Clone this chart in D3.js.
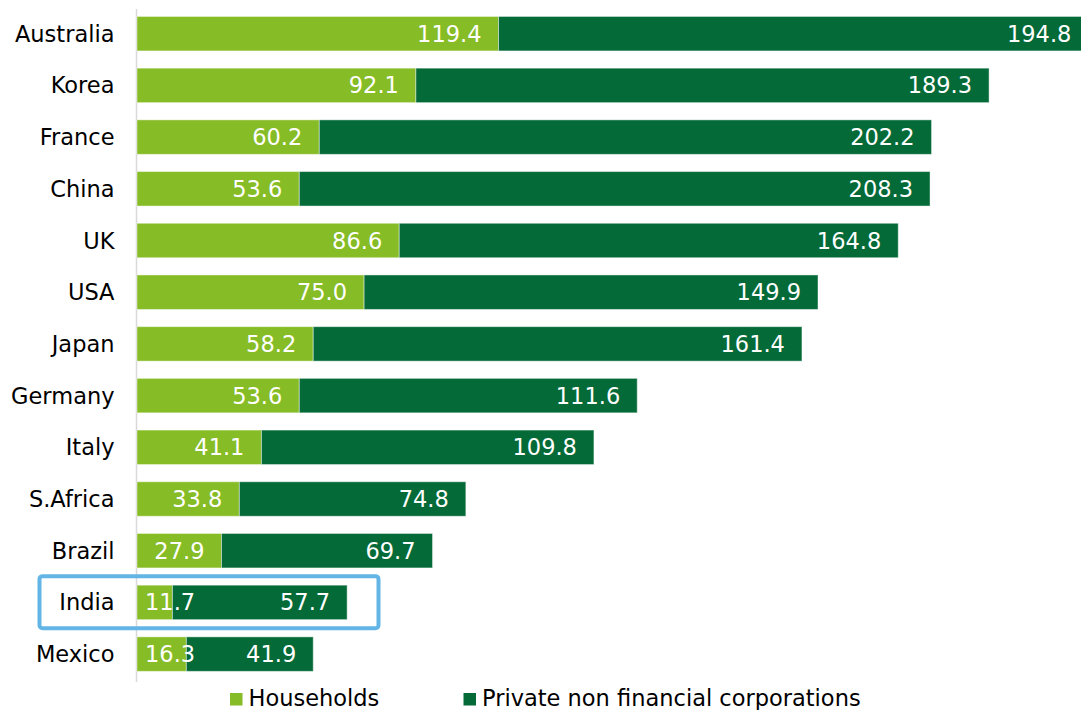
<!DOCTYPE html>
<html>
<head>
<meta charset="utf-8">
<script src="https://cdn.jsdelivr.net/npm/d3@7"></script>
<style>
  html, body { margin: 0; padding: 0; background: #fff; overflow: hidden; }
  svg { display: block; font-family: "DejaVu Sans", Verdana, sans-serif; }
</style>
</head>
<body>
<svg id="chart" width="1081" height="710"></svg>
<script>
const countries = ["Australia","Korea","France","China","UK","USA","Japan","Germany","Italy","S.Africa","Brazil","India","Mexico"];
const households = [119.4, 92.1, 60.2, 53.6, 86.6, 75.0, 58.2, 53.6, 41.1, 33.8, 27.9, 11.7, 16.3];
const corporations = [194.8, 189.3, 202.2, 208.3, 164.8, 149.9, 161.4, 111.6, 109.8, 74.8, 69.7, 57.7, 41.9];
const seriesNames = ["Households", "Private non financial corporations"];
const seriesColors = ["#86BC25", "#046A38"];
const highlighted = "India";

const FS = 22.5;
const svg = d3.select("#chart");
const x = d3.scaleLinear().domain([0, 300]).range([137, 137 + 300 * 3.028]);
const y = d3.scaleBand().domain(countries).range([7.85, 7.85 + 13 * 51.7]).paddingInner(0.333).paddingOuter(0.1665);

const rows = countries.map((c, i) => ({ c, h: households[i], p: corporations[i] }));
const stack = d3.stack().keys(["h", "p"])(rows);

// axis line
svg.append("line").attr("x1", 136.5).attr("x2", 136.5).attr("y1", 9).attr("y2", 682)
  .attr("stroke", "#d9d9d9").attr("stroke-width", 1.5);

// bars
stack.forEach((layer, li) => {
  svg.append("g").selectAll("rect").data(layer).join("rect")
    .attr("x", d => x(d[0]))
    .attr("y", d => y(d.data.c))
    .attr("width", d => x(d[1]) - x(d[0]))
    .attr("height", y.bandwidth())
    .attr("fill", seriesColors[li])
    .attr("stroke", "#ffffff").attr("stroke-opacity", 0.45).attr("stroke-width", 1);
});

// value labels
stack.forEach((layer, li) => {
  const g = svg.append("g");
  layer.forEach(d => {
    const val = d[1] - d[0];
    const t = g.append("text")
      .attr("y", y(d.data.c) + y.bandwidth() / 2 + 8)
      .attr("fill", "#fff").attr("font-size", FS)
      .text(val.toFixed(1));
    const w = t.node().getComputedTextLength();
    const segW = x(d[1]) - x(d[0]);
    if (segW < w + 24) {
      t.attr("x", x(d[0]) + 8).attr("text-anchor", "start");
    } else {
      t.attr("x", x(d[1]) - 17).attr("text-anchor", "end");
    }
  });
});

// category labels
svg.append("g").selectAll("text").data(countries).join("text")
  .attr("x", 114.5).attr("y", d => y(d) + y.bandwidth() / 2 + 8)
  .attr("text-anchor", "end").attr("font-size", FS).attr("fill", "#000")
  .text(d => d);

// highlight box
const hy = y(highlighted);
svg.append("rect")
  .attr("x", 39.5).attr("y", hy - 9).attr("width", 339).attr("height", y.bandwidth() + 17.5)
  .attr("rx", 3).attr("fill", "none").attr("stroke", "#62B5E5").attr("stroke-width", 4);

// legend
const legendX = [230, 463.5];
const lg = svg.append("g");
seriesNames.forEach((n, i) => {
  lg.append("rect").attr("x", legendX[i]).attr("y", 693).attr("width", 12.5).attr("height", 12.5).attr("fill", seriesColors[i]);
  lg.append("text").attr("x", legendX[i] + 18.5).attr("y", 706).attr("font-size", FS).attr("fill", "#000").text(n);
});
</script>
</body>
</html>
